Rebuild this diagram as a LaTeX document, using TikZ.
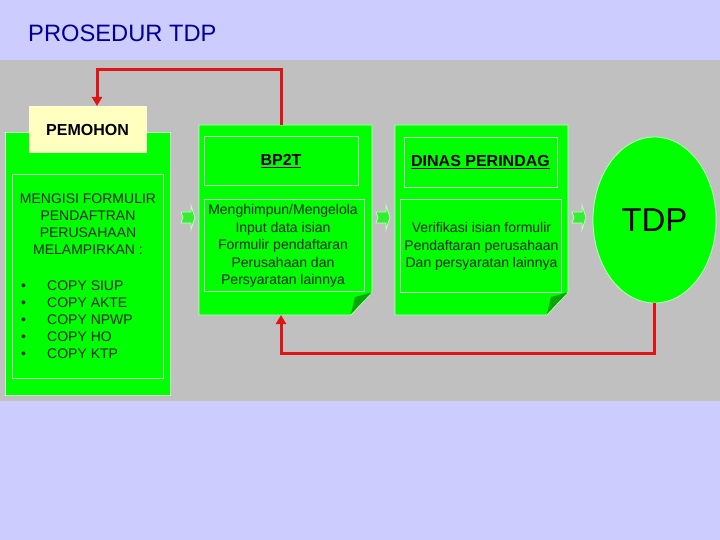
\documentclass[tikz,border=0pt]{standalone}
\usepackage{fontspec}
\setmainfont{Liberation Sans}
\usetikzlibrary{shapes.geometric,arrows.meta,calc}
\definecolor{bg}{HTML}{CCCCFF}
\definecolor{band}{HTML}{C0C0C0}
\definecolor{boxg}{HTML}{00FF00}
\definecolor{edgeg}{HTML}{C0FFC0}
\definecolor{foldg}{HTML}{00A800}
\definecolor{titleblue}{HTML}{000099}
\definecolor{redl}{HTML}{E01414}
\definecolor{txtc}{HTML}{0A280A}
\definecolor{yel}{HTML}{FFFFC0}
\definecolor{arrg}{HTML}{33EE33}
\newcommand{\bul}{\makebox[28pt][l]{\hspace{2pt}•}}
\tikzset{
  greenbox/.style={draw=edgeg, fill=boxg, line width=0.8pt, inner sep=0pt, outer sep=0pt},
  holder/.style={inner sep=0pt, outer sep=0pt},
  innerbox/.style={draw=edgeg, line width=0.8pt, inner sep=0pt, outer sep=0pt},
  bodytxt/.style={text=txtc, font=\fontsize{14}{17}\selectfont, inner sep=0pt},
  hdr/.style={text=black, font=\bfseries\fontsize{16}{19}\selectfont, inner sep=0pt},
  redline/.style={draw=redl, line width=3pt, line join=miter, -{Triangle[length=9pt,width=10pt]}},
  blockarr/.pic={\filldraw[fill=arrg, draw=edgeg, line width=0.8pt]
     (0,-5.5) -- (10,-5.5) -- (10,-12) -- (14,0) -- (10,12) -- (10,5.5) -- (0,5.5) -- (2,0) -- cycle;}
}
\begin{document}
\begin{tikzpicture}[x=1pt,y=-1pt]
\useasboundingbox (0,0) rectangle (720,540);
\fill[bg] (0,0) rectangle (720,540);
\fill[band] (0,60) rectangle (720,401);

\node[anchor=base west, text=titleblue, font=\fontsize{23.7}{28}\selectfont, inner sep=0pt] (title) at (28,42) {PROSEDUR TDP};

% left box
\node[greenbox, minimum width=165pt, minimum height=263pt] (left) at (87.5,263.5) {};
\node[innerbox, minimum width=151pt, minimum height=204pt] (leftin) at (87.5,276) {};
\node[bodytxt, align=center, anchor=north] (lefttext) at (88,194) {MENGISI FORMULIR\\PENDAFTRAN\\PERUSAHAAN\\MELAMPIRKAN :};
\node[bodytxt, align=left, anchor=north west] (items) at (19,281) {\bul COPY SIUP\\\bul COPY AKTE\\\bul COPY NPWP\\\bul COPY HO\\\bul COPY KTP};

% pemohon
\node[fill=yel, draw=yel!80!white, line width=0.6pt, minimum width=117pt, minimum height=46pt, inner sep=0pt, outer sep=0pt] (pemohon) at (87.5,129) {};
\node[hdr, anchor=base] (pemohonlabel) at (87.5,136) {PEMOHON};

% BP2T box
\node[holder, minimum width=173pt, minimum height=190pt] (bp2t) at (285.5,220) {};
\filldraw[fill=boxg, draw=edgeg, line width=0.8pt] (199,125) -- (372,125) -- (372,292) -- (351,315) -- (199,315) -- cycle;
\fill[foldg] (351,314) -- (355,297) -- (371.5,292.5) -- cycle;
\node[innerbox, minimum width=154pt, minimum height=49pt] (bp2thead) at (281,160.5) {};
\node[innerbox, minimum width=160pt, minimum height=92pt] (bp2tbody) at (284,245) {};
\node[hdr, anchor=base] (bp2tlabel) at (281,166) {\underline{BP2T}};
\node[bodytxt, align=center, anchor=north, font=\fontsize{14}{17.5}\selectfont] (bp2ttext) at (283,204.5) {Menghimpun/Mengelola\\Input data isian\\Formulir pendaftaran\\Perusahaan dan\\Persyaratan lainnya};

% DINAS box
\node[holder, minimum width=173pt, minimum height=190pt] (dinas) at (481.5,220) {};
\filldraw[fill=boxg, draw=edgeg, line width=0.8pt] (395,125) -- (568,125) -- (568,292) -- (547,315) -- (395,315) -- cycle;
\fill[foldg] (547,314) -- (551,297) -- (567.5,292.5) -- cycle;
\node[innerbox, minimum width=153pt, minimum height=50pt] (dinashead) at (480.5,162) {};
\node[innerbox, minimum width=161pt, minimum height=93pt] (dinasbody) at (480.5,245.5) {};
\node[hdr, anchor=base] (dinaslabel) at (480.5,167) {\underline{DINAS PERINDAG}};
\node[bodytxt, align=center, anchor=north, font=\fontsize{14}{17.5}\selectfont] (dinastext) at (481.5,222.5) {Verifikasi isian formulir\\Pendaftaran perusahaan\\Dan persyaratan lainnya};

% TDP ellipse
\node[ellipse, draw=edgeg, fill=boxg, line width=0.8pt, minimum width=123pt, minimum height=166pt, inner sep=0pt, outer sep=0pt, font=\fontsize{33}{36}\selectfont] (tdp) at (654.5,220) {TDP};

% block arrows
\pic at (181,217.5) {blockarr};
\pic at (376,217.5) {blockarr};
\pic at (572,217.5) {blockarr};

% red connectors
\draw[redline] (bp2thead.north |- bp2t.north) -- ++(0,-55) -| ([xshift=9.5pt]pemohon.north);
\draw[redline] (tdp.south) -- ++(0,50) -| (bp2thead.south |- bp2t.south);
\end{tikzpicture}
\end{document}
